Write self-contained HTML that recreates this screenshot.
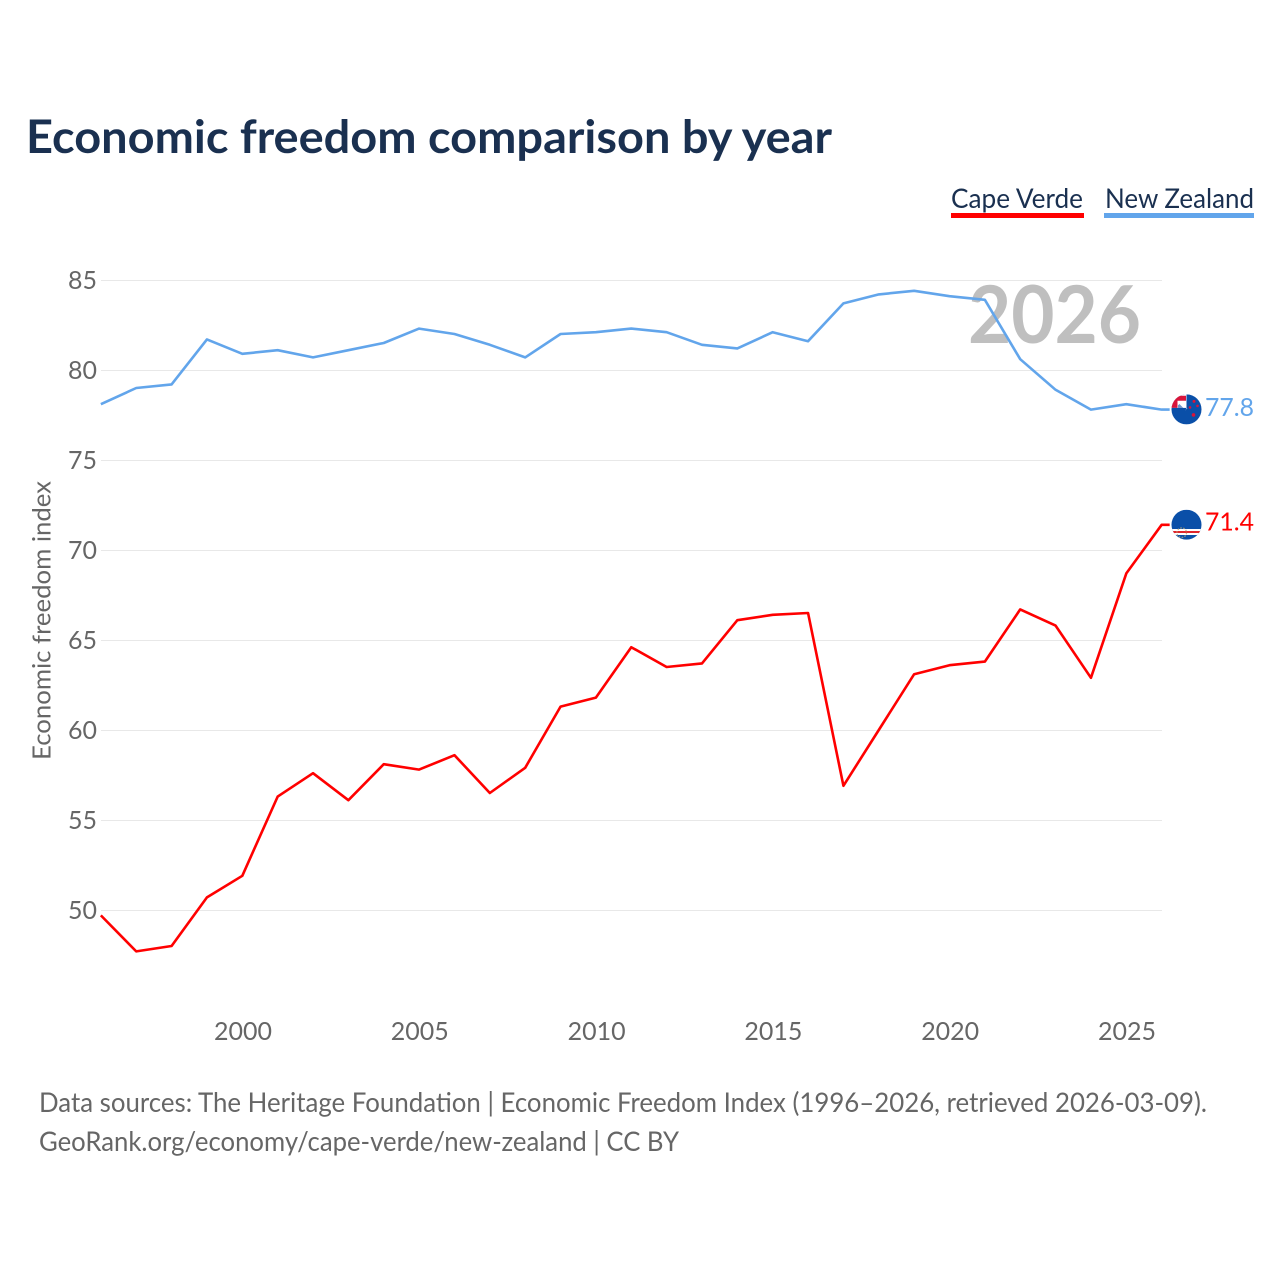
<!DOCTYPE html>
<html lang="en">
<head>
<meta charset="utf-8">
<title>Economic freedom comparison by year</title>
<style>
html,body{margin:0;padding:0;background:#fff;width:1280px;height:1280px;overflow:hidden}
svg{display:block}
text{font-family:"Lato","Carlito","Liberation Sans",sans-serif}
</style>
</head>
<body>
<svg id="chart" xmlns="http://www.w3.org/2000/svg" width="1280" height="1280" viewBox="0 0 1280 1280">
  <defs>
    <clipPath id="nz-clip"><circle cx="0" cy="0" r="15"/></clipPath>
    <clipPath id="cv-clip"><circle cx="0" cy="0" r="15"/></clipPath>
  </defs>
  <rect x="0" y="0" width="1280" height="1280" fill="#fff"/>
  <text x="26" y="153" font-size="46" font-weight="700" fill="#1a3050" textLength="806" lengthAdjust="spacingAndGlyphs">Economic freedom comparison by year</text>

  <g>
    <g>
      <text x="951" y="208" font-size="27" fill="#1a3050" textLength="132" lengthAdjust="spacingAndGlyphs">Cape Verde</text>
      <rect x="951" y="213" width="133" height="5" fill="#ff0000"/>
    </g>
    <g>
      <text x="1105" y="208" font-size="27" fill="#1a3050" textLength="149" lengthAdjust="spacingAndGlyphs">New Zealand</text>
      <rect x="1104" y="213" width="150" height="5" fill="#62a5eb"/>
    </g>
  </g>

  <g id="grid"></g>
  <text x="968" y="343" font-size="80" font-weight="700" fill="#bfbfbf" textLength="173" lengthAdjust="spacingAndGlyphs">2026</text>
  <g id="y-ticks"></g>
  <g id="x-ticks"></g>
  <text transform="translate(50.5,620.5) rotate(-90)" text-anchor="middle" font-size="25" fill="#666" textLength="279" lengthAdjust="spacingAndGlyphs">Economic freedom index</text>
  <g id="series"></g>

  <g id="flag-nz">
    <g clip-path="url(#nz-clip)">
      <rect x="-15" y="-15" width="30" height="30" fill="#0a4fa8"/>
      <rect x="-15" y="-15" width="15" height="15" fill="#fff"/>
      <path d="M-15 -13.6H-0.5V-8.6H-9V-1.5H-15Z" fill="#d8143a"/>
      <path d="M-8.5 -1.5L-1 -1.5L-6 -6.5L-8.5 -4Z" fill="#6f94c9"/>
      <path d="M-7.5 -7.5L0 0" stroke="#fff" stroke-width="2.4"/>
      <rect x="-15" y="-1.5" width="15" height="2" fill="#0a4fa8"/>
      <circle cx="7.5" cy="-8" r="1.5" fill="#d8143a"/>
      <circle cx="11" cy="-3.5" r="1.3" fill="#d8143a"/>
      <circle cx="3.5" cy="-2" r="1.3" fill="#d8143a"/>
      <circle cx="7" cy="5.5" r="1.8" fill="#d8143a"/>
    </g>
  </g>
  <g id="flag-cv">
    <g clip-path="url(#cv-clip)">
      <rect x="-15" y="-15" width="30" height="30" fill="#0a4fa8"/>
      <rect x="-15" y="4.3" width="30" height="6" fill="#fff"/>
      <rect x="-15" y="6.3" width="30" height="2" fill="#e0252b"/>
      <circle cx="-4.8" cy="8" r="4.8" fill="none" stroke="#b8a877" stroke-width="1.3" stroke-dasharray="1.6 1.4" opacity="0.8"/>
    </g>
  </g>
  <g id="end-labels"></g>

  <text x="39" y="1112" font-size="27" fill="#666" textLength="1168" lengthAdjust="spacingAndGlyphs">Data sources: The Heritage Foundation | Economic Freedom Index (1996–2026, retrieved 2026-03-09).</text>
  <text x="39" y="1151" font-size="27" fill="#666" textLength="640" lengthAdjust="spacingAndGlyphs">GeoRank.org/economy/cape-verde/new-zealand | CC BY</text>
</svg>
<script>
const years = [1996,1997,1998,1999,2000,2001,2002,2003,2004,2005,2006,2007,2008,2009,2010,2011,2012,2013,2014,2015,2016,2017,2018,2019,2020,2021,2022,2023,2024,2025,2026];
const capeVerde = [49.7,47.7,48.0,50.7,51.9,56.3,57.6,56.1,58.1,57.8,58.6,56.5,57.9,61.3,61.8,64.6,63.5,63.7,66.1,66.4,66.5,56.9,60.0,63.1,63.6,63.8,66.7,65.8,62.9,68.7,71.4];
const newZealand = [78.1,79.0,79.2,81.7,80.9,81.1,80.7,81.1,81.5,82.3,82.0,81.4,80.7,82.0,82.1,82.3,82.1,81.4,81.2,82.1,81.6,83.7,84.2,84.4,84.1,83.9,80.6,78.9,77.8,78.1,77.8];
const yTickLabels = [50,55,60,65,70,75,80,85];
const xTickLabels = [2000,2005,2010,2015,2020,2025];

const NS = 'http://www.w3.org/2000/svg';
function xScale(year){ return 243 + (year - 2000) * (1127 - 243) / 25; }
function yScale(value){ return 910.5 - (value - 50) * 18; }
function xLine(year){ return xScale(year) - 0.7; }
function yLine(value){ return yScale(value) - 0.5; }
function make(tag, parent){
  const el = document.createElementNS(NS, tag);
  parent.appendChild(el);
  return el;
}
const gridGroup = document.getElementById('grid');
const yGroup = document.getElementById('y-ticks');
const xGroup = document.getElementById('x-ticks');
const seriesGroup = document.getElementById('series');
const endGroup = document.getElementById('end-labels');

yTickLabels.forEach(function(v){
  const line = make('line', gridGroup);
  
  
  line.setAttribute('x1', 101);
  line.setAttribute('x2', 1162);
  line.setAttribute('y1', yScale(v));
  line.setAttribute('y2', yScale(v));
  line.setAttribute('stroke', '#e8e8e8');
  line.setAttribute('stroke-width', 1);
  const t = make('text', yGroup);
  
  
  t.setAttribute('x', 97);
  t.setAttribute('y', yScale(v) + 8.5);
  t.setAttribute('text-anchor', 'end');
  t.setAttribute('font-size', 25);
  t.setAttribute('fill', '#666');
  t.setAttribute('textLength', 29);
  t.setAttribute('lengthAdjust', 'spacingAndGlyphs');
  t.textContent = v;
});

xTickLabels.forEach(function(y){
  const t = make('text', xGroup);
  
  
  t.setAttribute('x', xScale(y));
  t.setAttribute('y', 1040);
  t.setAttribute('text-anchor', 'middle');
  t.setAttribute('font-size', 25);
  t.setAttribute('fill', '#666');
  t.setAttribute('textLength', 58);
  t.setAttribute('lengthAdjust', 'spacingAndGlyphs');
  t.textContent = y;
});

function pathFor(values){
  const d = values.map(function(v, i){
    return (i ? 'L' : 'M') + xLine(years[i]).toFixed(2) + ' ' + yLine(v).toFixed(2);
  }).join(' ');
  // short flat connector from the final point toward the flag marker
  return d + ' H' + (xLine(years[years.length - 1]) + 8).toFixed(2);
}

const lineCv = make('path', seriesGroup);


lineCv.setAttribute('d', pathFor(capeVerde));
lineCv.setAttribute('fill', 'none');
lineCv.setAttribute('stroke', '#ff0000');
lineCv.setAttribute('stroke-width', 2.6);
lineCv.setAttribute('stroke-linejoin', 'round');

const lineNz = make('path', seriesGroup);


lineNz.setAttribute('d', pathFor(newZealand));
lineNz.setAttribute('fill', 'none');
lineNz.setAttribute('stroke', '#62a5eb');
lineNz.setAttribute('stroke-width', 2.6);
lineNz.setAttribute('stroke-linejoin', 'round');

const lastCv = capeVerde[capeVerde.length - 1];
const lastNz = newZealand[newZealand.length - 1];
document.getElementById('flag-nz').setAttribute('transform', 'translate(1186.5,' + (yScale(lastNz) - 0.7) + ')');
document.getElementById('flag-cv').setAttribute('transform', 'translate(1186.5,' + (yScale(lastCv) - 0.6) + ')');

const labelNz = make('text', endGroup);


labelNz.setAttribute('x', 1205);
labelNz.setAttribute('y', yScale(lastNz) + 6);
labelNz.setAttribute('font-size', 25);
labelNz.setAttribute('fill', '#62a5eb');
labelNz.setAttribute('textLength', 49);
labelNz.setAttribute('lengthAdjust', 'spacingAndGlyphs');
labelNz.textContent = lastNz.toFixed(1);

const labelCv = make('text', endGroup);


labelCv.setAttribute('x', 1205);
labelCv.setAttribute('y', yScale(lastCv) + 5.3);
labelCv.setAttribute('font-size', 25);
labelCv.setAttribute('fill', '#ff0000');
labelCv.setAttribute('textLength', 49);
labelCv.setAttribute('lengthAdjust', 'spacingAndGlyphs');
labelCv.textContent = lastCv.toFixed(1);
</script>
</body>
</html>
